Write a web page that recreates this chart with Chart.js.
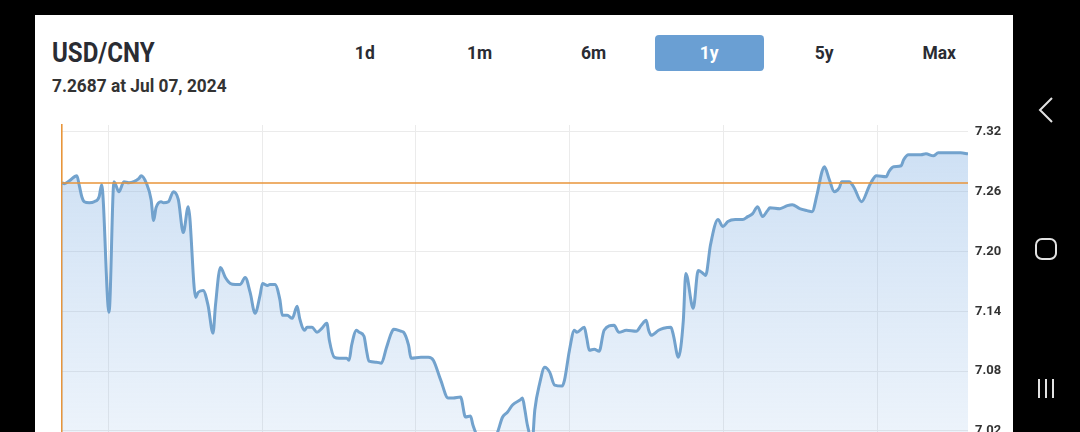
<!DOCTYPE html>
<html><head><meta charset="utf-8">
<script src="https://cdn.jsdelivr.net/npm/chart.js@4.4.1/dist/chart.umd.min.js"></script>
<style>
html,body{margin:0;padding:0;background:#000;width:1080px;height:432px;overflow:hidden;font-family:Roboto,sans-serif}
#card{position:absolute;left:35px;top:15px;width:978px;height:600px;background:#fff}
#title{position:absolute;left:52px;top:35px;font:700 28px Roboto;line-height:36px;color:#2a2c33;transform-origin:left top;transform:scaleX(0.86);white-space:nowrap}
#sub{position:absolute;left:52px;top:74px;font:700 18.7px Roboto;line-height:24px;color:#333;white-space:nowrap;transform-origin:left top;transform:scaleX(0.925)}
.btn{position:absolute;top:35px;width:109px;height:36px;text-align:center;font:700 19px Roboto;line-height:36px;color:#2a2c33;border-radius:4px}
.btn span{display:inline-block;transform:scaleX(0.92)}
.btn.active{background:#6a9fd3;color:#fff}
#wrap{position:absolute;left:35px;top:105px;width:978px;height:500px}
#nav{position:absolute;left:1013px;top:0;width:67px;height:432px}
</style></head>
<body>
<div id="card"></div>
<div id="title"></div>
<div id="sub"></div>
<div id="btns"></div>
<div id="wrap"><canvas id="c" width="978" height="500"></canvas></div>
<svg id="nav" width="67" height="432" viewBox="1013 0 67 432">
  <polyline points="1052,98 1040,110 1052,122" fill="none" stroke="#e2e2e2" stroke-width="2"/>
  <rect x="1036" y="239" width="20" height="20" rx="6" fill="none" stroke="#e2e2e2" stroke-width="2"/>
  <line x1="1039" y1="379" x2="1039" y2="398" stroke="#e2e2e2" stroke-width="2"/>
  <line x1="1046" y1="379" x2="1046" y2="398" stroke="#e2e2e2" stroke-width="2"/>
  <line x1="1053" y1="379" x2="1053" y2="398" stroke="#e2e2e2" stroke-width="2"/>
</svg>
<script>
const titleText = "USD/CNY";
const subText = "7.2687 at Jul 07, 2024";
const ranges = ["1d","1m","6m","1y","5y","Max"];
const activeRange = "1y";
const rangeCenters = [365,480,594,709,824,939];

const days = [0,1,3,6,7,8,9,11,13,15,16,19,21,23,25,27,29,31,32,34,36,37,38,40,41,43,45,47,49,51,54,55,57,59,61,62,64,66,68,70,72,74,76,78,80,81,83,84,86,88,89,91,93,95,96,98,99,101,103,105,107,108,110,112,115,116,117,119,120,122,123,124,127,129,131,133,134,137,138,140,141,145,148,150,153,156,158,161,163,165,166,167,169,171,174,176,178,180,182,185,186,187,188,190,191,193,195,197,199,202,203,205,207,208,211,212,213,215,217,219,223,225,228,232,234,236,237,238,241,243,246,247,249,251,252,255,257,259,260,262,265,267,269,272,275,277,279,281,283,285,286,290,293,295,298,301,303,305,307,308,310,312,314,315,318,320,323,326,327,329,333,334,336,339,340,342,345,347,349,352,354,357,360,363,366];
const rates = [7.269,7.268,7.271,7.276,7.266,7.255,7.250,7.249,7.250,7.255,7.267,7.139,7.270,7.260,7.270,7.269,7.270,7.273,7.276,7.269,7.252,7.231,7.244,7.250,7.249,7.250,7.260,7.252,7.219,7.245,7.154,7.159,7.161,7.146,7.118,7.146,7.184,7.174,7.168,7.167,7.167,7.174,7.159,7.138,7.156,7.168,7.166,7.167,7.167,7.152,7.136,7.136,7.133,7.145,7.133,7.121,7.124,7.124,7.119,7.123,7.128,7.111,7.094,7.093,7.093,7.091,7.106,7.121,7.119,7.115,7.101,7.090,7.089,7.088,7.103,7.118,7.122,7.120,7.119,7.106,7.093,7.094,7.094,7.091,7.071,7.053,7.053,7.054,7.034,7.035,7.026,7.019,7.006,7.001,7.006,7.019,7.034,7.039,7.046,7.051,7.053,7.041,7.026,7.011,7.041,7.068,7.084,7.079,7.066,7.065,7.071,7.101,7.121,7.119,7.124,7.113,7.101,7.102,7.100,7.121,7.126,7.119,7.121,7.120,7.126,7.131,7.121,7.116,7.121,7.123,7.124,7.116,7.094,7.131,7.178,7.143,7.181,7.178,7.176,7.207,7.232,7.225,7.230,7.232,7.232,7.235,7.238,7.245,7.235,7.241,7.244,7.243,7.246,7.247,7.243,7.241,7.240,7.257,7.280,7.285,7.272,7.260,7.264,7.270,7.270,7.264,7.250,7.265,7.270,7.276,7.275,7.280,7.285,7.286,7.292,7.297,7.297,7.297,7.298,7.296,7.299,7.299,7.299,7.299,7.298];
const currentRate = 7.2687;
const yTickValues = [6.90,6.96,7.02,7.08,7.14,7.20,7.26,7.32];
const gridDays = [18.6,80.8,143.0,205.2,267.4,329.6];
const X_MIN = 0, X_MAX = 366;
const Y_MIN = 6.8655, Y_MAX = 7.3269;

document.getElementById('title').textContent = titleText;
document.getElementById('sub').textContent = subText;
const btns = document.getElementById('btns');
ranges.forEach((r,i)=>{
  const d = document.createElement('div');
  d.className = 'btn' + (r===activeRange?' active':'');
  d.style.left = (rangeCenters[i]-54.5)+'px';
  const s = document.createElement('span');
  s.textContent = r;
  d.appendChild(s);
  btns.appendChild(d);
});

const series = days.map((d,i)=>({x:d,y:rates[i]}));
const refLine = [{x:X_MIN,y:currentRate},{x:X_MAX,y:currentRate}];

function fillGrad(context){
  const chart = context.chart;
  const area = chart.chartArea;
  if(!area) return 'rgba(120,170,225,0.3)';
  const g = chart.ctx.createLinearGradient(0, area.top, 0, area.bottom);
  g.addColorStop(0,'rgba(120,170,225,0.38)');
  g.addColorStop(1,'rgba(120,170,225,0.02)');
  return g;
}

new Chart(document.getElementById('c'),{
  type:'line',
  data:{datasets:[
    {data:refLine, yAxisID:'y', borderColor:'#e8953a', borderWidth:1.6, pointRadius:0, fill:false, order:0},
    {data:series, yAxisID:'y', borderColor:'#72a2cd', borderWidth:3, pointRadius:0, fill:'start', backgroundColor:fillGrad, cubicInterpolationMode:'monotone', order:1}
  ]},
  options:{
    responsive:false, animation:false, events:[],
    layout:{padding:{top:20,left:0,right:0,bottom:20}},
    plugins:{legend:{display:false},tooltip:{enabled:false}},
    scales:{
      x:{type:'linear', min:X_MIN, max:X_MAX,
         grid:{color:'#ebebeb', drawTicks:false}, border:{display:false},
         ticks:{display:false},
         afterBuildTicks:s=>{s.ticks = gridDays.map(v=>({value:v}));},
         afterFit:s=>{s.height=0;}},
      yl:{axis:'y', position:'left', min:Y_MIN, max:Y_MAX,
         grid:{display:false, drawTicks:false}, ticks:{display:false},
         border:{display:true, color:'#e8953a', width:1.6},
         afterFit:s=>{s.width=27;}},
      y:{position:'right', min:Y_MIN, max:Y_MAX,
         afterBuildTicks:s=>{s.ticks = yTickValues.map(v=>({value:v}));},
         ticks:{padding:7, color:'#333', font:{family:'Roboto', weight:'bold', size:13}, callback:v=>Number(v).toFixed(2)},
         grid:{color:'#ebebeb', drawTicks:false}, border:{display:false},
         afterFit:s=>{s.width=45;}}
    }
  }
});
</script>
</body></html>
